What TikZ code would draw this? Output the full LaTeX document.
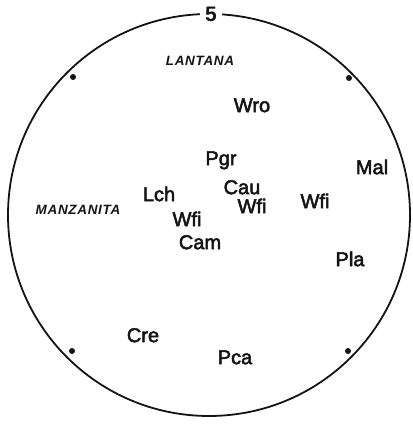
\documentclass[tikz,border=0pt]{standalone}
\usepackage{fontspec}
\setmainfont{Liberation Sans}
\usepackage{xcolor}
\usepackage{tikz}
\usetikzlibrary{positioning, calc}
\definecolor{PlotInk}{RGB}{20, 20, 20}

\tikzset{
  taxon/.style={inner sep=0pt, text height=14.3pt, text depth=0pt, text=PlotInk,
                font=\fontsize{20}{23}\selectfont\addfontfeature{FakeBold=2.5}},
  region/.style={inner sep=0pt, text height=9.7pt, text depth=0pt, text=PlotInk,
                 font=\fontsize{13.5}{15}\selectfont\bfseries\itshape\addfontfeature{LetterSpace=5}},
  plotdot/.style={circle, fill=PlotInk, inner sep=0pt, minimum size=6pt}
}

\begin{document}
\begin{tikzpicture}[x=1pt, y=1pt]
    \useasboundingbox (0,0) rectangle (412,425);
    \coordinate (centre) at (209,210);
    \draw[PlotInk, line width=1.8pt] (centre) circle[radius=201];
    \node[fill=white, inner xsep=5pt, inner ysep=1pt, text height=15pt, text depth=0pt,
          font=\fontsize{21}{24}\selectfont\bfseries, text=PlotInk] (plotno) at (211,411) {5};

    % corner marks
    \node[plotdot] (markNW) at (73,348) {};
    \node[plotdot] (markNE) at (349,347) {};
    \node[plotdot] (markSW) at (72,74) {};
    \node[plotdot] (markSE) at (348,74) {};

    % vegetation types
    \node[region] (lantana) at (200,364) {LANTANA};
    \node[region] (manzanita) at (78,215) {MANZANITA};

    % species
    \node[taxon] (wro) at (252,320) {Wro};
    \node[taxon] (pgr) at (221,267) {Pgr};
    \node[taxon] (mal) at (372,258) {Mal};
    \node[taxon] (cau) at (242,238) {Cau};
    \node[taxon] (lch) at (159,231) {Lch};
    \node[taxon] (wfiA) at (252,219) {Wfi};
    \node[taxon] (wfiB) at (315,224) {Wfi};
    \node[taxon] (wfiC) at (187,206) {Wfi};
    \node[taxon] (cam) at (200,183) {Cam};
    \node[taxon] (pla) at (350,166) {Pla};
    \node[taxon] (cre) at (143,90) {Cre};
    \node[taxon] (pca) at (235,68) {Pca};
\end{tikzpicture}
\end{document}
